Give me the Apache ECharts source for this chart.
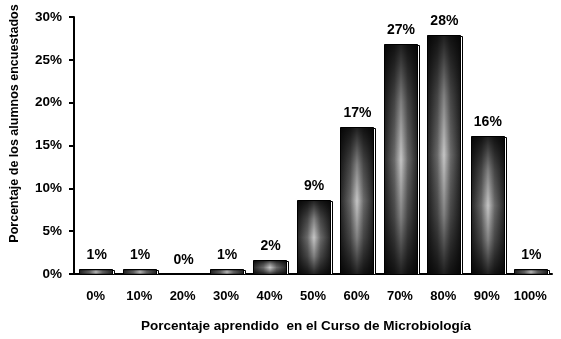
<!DOCTYPE html>
<html lang="es">
<head>
<meta charset="UTF-8">
<title>Porcentaje aprendido</title>
<script src="https://cdn.jsdelivr.net/npm/echarts@6/dist/echarts.min.js"></script>
<style>
  html, body { margin: 0; padding: 0; background: #fff; }
  #main { width: 561px; height: 339px; }
</style>
</head>
<body>
<div id="main"></div>
<script>
var categories = ['0%', '10%', '20%', '30%', '40%', '50%', '60%', '70%', '80%', '90%', '100%'];
var values = [0.6, 0.6, 0, 0.6, 1.6, 8.6, 17.2, 26.8, 27.9, 16.1, 0.6];
var valueLabels = ['1%', '1%', '0%', '1%', '2%', '9%', '17%', '27%', '28%', '16%', '1%'];

var FONT = '"Liberation Sans", Arial, sans-serif';
var myChart = echarts.init(document.getElementById('main'));

// gradiente tipo "almohada": oscuro en los bordes, claro al centro
function renderBar(params, api) {
    var idx = api.value(0);
    var val = api.value(1);
    var top = api.coord([idx, val]);
    var base = api.coord([idx, 0]);
    var bw = api.size([1, 0])[0] * 0.75;
    var x = Math.round(top[0] - bw / 2) + 0.5;
    var y = Math.round(top[1]) + 0.5;
    var w = Math.round(bw);
    var h = Math.round(base[1]) - Math.round(top[1]);
    var kids = [];
    if (h > 0) {
        kids.push({
            type: 'rect',
            shape: { x: x + 2, y: y + 1, width: w, height: h - 1 },
            style: { fill: '#fff', stroke: '#000', lineWidth: 1 }
        });
        kids.push({
            type: 'rect',
            shape: { x: x, y: y, width: w, height: h },
            style: {
                fill: new echarts.graphic.LinearGradient(0, 0, 1, 0, [
                    { offset: 0, color: '#262626' },
                    { offset: 0.3, color: '#6a6a6a' },
                    { offset: 0.5, color: '#c6c6c6' },
                    { offset: 0.7, color: '#6a6a6a' },
                    { offset: 1, color: '#262626' }
                ])
            }
        });
        kids.push({
            type: 'rect',
            shape: { x: x, y: y, width: w, height: h },
            style: {
                fill: new echarts.graphic.LinearGradient(0, 0, 0, 1, [
                    { offset: 0, color: 'rgba(0,0,0,0.85)' },
                    { offset: 0.25, color: 'rgba(0,0,0,0.35)' },
                    { offset: 0.5, color: 'rgba(0,0,0,0)' },
                    { offset: 0.75, color: 'rgba(0,0,0,0.35)' },
                    { offset: 1, color: 'rgba(0,0,0,0.85)' }
                ]),
                stroke: '#000',
                lineWidth: 1
            }
        });
    }
    kids.push({
        type: 'text',
        style: {
            text: valueLabels[idx],
            x: top[0] + 1,
            y: top[1] - 7,
            align: 'center',
            verticalAlign: 'bottom',
            font: 'bold 14px ' + FONT,
            fill: '#000'
        }
    });
    return { type: 'group', children: kids };
}

var option = {
    backgroundColor: '#fff',
    animation: false,
    grid: { left: 72, right: 9, top: 17, bottom: 65 },
    xAxis: {
        type: 'category',
        data: categories,
        name: 'Porcentaje aprendido  en el Curso de Microbiología',
        nameLocation: 'middle',
        nameGap: 45,
        nameTextStyle: { color: '#000', fontWeight: 'bold', fontSize: 13.5, fontFamily: FONT, padding: [0, 14, 0, 0] },
        axisLine: { lineStyle: { color: '#000', width: 2 } },
        axisTick: { length: 5, lineStyle: { color: '#000', width: 2 } },
        axisLabel: { color: '#000', fontWeight: 'bold', fontSize: 13, fontFamily: FONT, margin: 16 }
    },
    yAxis: {
        type: 'value',
        min: 0,
        max: 30,
        interval: 5,
        name: 'Porcentaje de los alumnos encuestados',
        nameLocation: 'middle',
        nameGap: 53,
        nameTextStyle: { color: '#000', fontWeight: 'bold', fontSize: 12.5, fontFamily: FONT, padding: [0, 0, 0, 44] },
        splitLine: { show: false },
        axisLine: { show: true, lineStyle: { color: '#000', width: 2 } },
        axisTick: { show: true, length: 5, lineStyle: { color: '#000', width: 2 } },
        axisLabel: { color: '#000', fontWeight: 'bold', fontSize: 13.5, fontFamily: FONT, margin: 12, formatter: '{value}%' }
    },
    series: [{
        type: 'custom',
        renderItem: renderBar,
        data: values.map(function (v, i) { return [i, v]; })
    }]
};
myChart.setOption(option);
</script>
</body>
</html>
